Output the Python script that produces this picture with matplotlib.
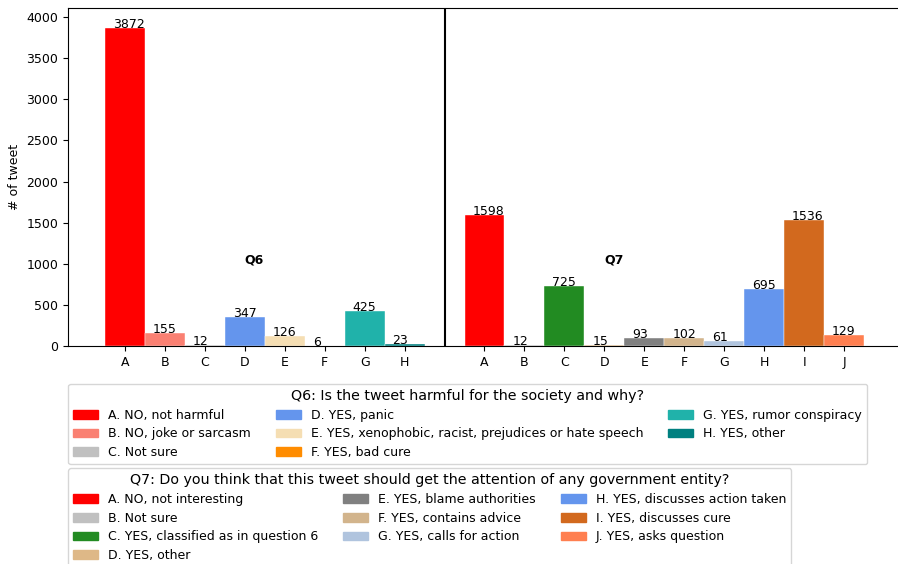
import numpy as np
import matplotlib
matplotlib.use('Agg')
import matplotlib.pyplot as plt
from matplotlib.patches import Patch

# Q6 data
q6_ticks = ['A', 'B', 'C', 'D', 'E', 'F', 'G', 'H']
q6_counts = [3872, 155, 12, 347, 126, 6, 425, 23]
q6_colors = ['red', 'salmon', 'silver', 'cornflowerblue', 'wheat',
             'darkorange', 'lightseagreen', 'teal']
q6_labels = ['A. NO, not harmful', 'B. NO, joke or sarcasm', 'C. Not sure',
             'D. YES, panic',
             'E. YES, xenophobic, racist, prejudices or hate speech',
             'F. YES, bad cure', 'G. YES, rumor conspiracy', 'H. YES, other']

# Q7 data
q7_ticks = ['A', 'B', 'C', 'D', 'E', 'F', 'G', 'H', 'I', 'J']
q7_counts = [1598, 12, 725, 15, 93, 102, 61, 695, 1536, 129]
q7_colors = ['red', 'silver', 'forestgreen', 'burlywood', 'gray', 'tan',
             'lightsteelblue', 'cornflowerblue', 'chocolate', 'coral']
q7_labels = ['A. NO, not interesting', 'B. Not sure',
             'C. YES, classified as in question 6', 'D. YES, other',
             'E. YES, blame authorities', 'F. YES, contains advice',
             'G. YES, calls for action', 'H. YES, discusses action taken',
             'I. YES, discusses cure', 'J. YES, asks question']

plt.rcParams['font.size'] = 9

fig = plt.figure(figsize=(8.98, 5.64), dpi=100)
ax = fig.add_axes([68 / 898, 1 - 346 / 564, 832 / 898, 338 / 564])

x6 = np.arange(len(q6_counts))
x7 = np.arange(len(q7_counts)) + len(q6_counts) + 1

ax.bar(x6, q6_counts, width=1.0, color=q6_colors, edgecolor='white', linewidth=0.3)
ax.bar(x7, q7_counts, width=1.0, color=q7_colors, edgecolor='white', linewidth=0.3)

# value labels, slightly left of bar centre like the original
for x, v in zip(x6, q6_counts):
    ax.text(x - 0.3, v, str(v), ha='left', va='baseline')
for x, v in zip(x7, q7_counts):
    ax.text(x - 0.3, v, str(v), ha='left', va='baseline')

ax.axvline(len(q6_counts), color='black', linewidth=1.5)
ax.text(3, 1000, 'Q6', fontweight='bold')
ax.text(12, 1000, 'Q7', fontweight='bold')

ax.set_xticks(list(x6) + list(x7))
ax.set_xticklabels(q6_ticks + q7_ticks)
ax.set_xlim(-1.425, 19.4)
ax.set_ylim(0, 4110)
ax.set_ylabel('# of tweet')

h6 = [Patch(color=c, label=l) for c, l in zip(q6_colors, q6_labels)]
h7 = [Patch(color=c, label=l) for c, l in zip(q7_colors, q7_labels)]

leg1 = ax.legend(handles=h6, ncol=3, loc='upper left',
                 bbox_to_anchor=(0, -0.112), borderaxespad=0,
                 title='Q6: Is the tweet harmful for the society and why?',
                 fontsize=9, title_fontsize=10.3, labelspacing=0.46)
ax.add_artist(leg1)
ax.legend(handles=h7, ncol=3, loc='upper left',
          bbox_to_anchor=(0, -0.361), borderaxespad=0,
          title='Q7: Do you think that this tweet should get the attention of any government entity?',
          fontsize=9, title_fontsize=10.3, labelspacing=0.46)

fig.savefig('out.png', dpi=100)
